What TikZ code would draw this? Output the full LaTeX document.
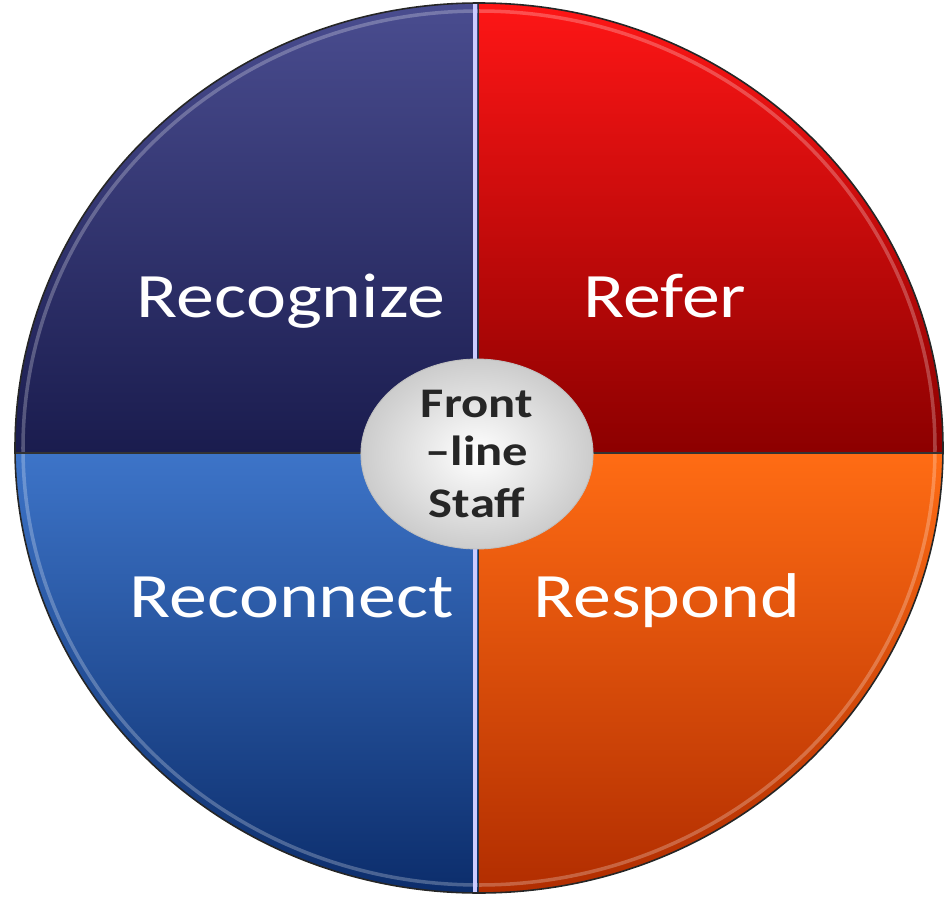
\documentclass[tikz,border=0pt]{standalone}
\usepackage{fontspec}
\setmainfont{Carlito}
\usetikzlibrary{shapes.geometric}

\definecolor{navytop}{HTML}{4A4D90}
\definecolor{navybot}{HTML}{1A1C4E}
\definecolor{redtop}{HTML}{FF1616}
\definecolor{redbot}{HTML}{8C0000}
\definecolor{bluetop}{HTML}{3D74C8}
\definecolor{bluebot}{HTML}{0B2C6A}
\definecolor{orangetop}{HTML}{FF6C14}
\definecolor{orangebot}{HTML}{B02C00}

\begin{document}
\begin{tikzpicture}[x=0.02cm,y=-0.02cm,
    quadlabel/.style={text=white,inner sep=0pt,anchor=base,xscale=1.2,
      font=\fontsize{36}{36}\selectfont},
    hub/.style={ellipse,draw=gray!50,line width=0.5pt,minimum width=3.87cm,
      minimum height=3.8cm,inner sep=0pt,xscale=1.2,align=center,
      inner color=white,outer color=black!20,text=black!85,
      font=\bfseries\fontsize{24}{29.5}\selectfont}]
    \useasboundingbox (0,0) rectangle (947,899);
    % four quadrants
    \begin{scope}
        \clip (479,448) ellipse [x radius=464,y radius=445];
        \shade[top color=navytop,bottom color=navybot] (0,0) rectangle (478,453);
        \shade[top color=redtop,bottom color=redbot] (478,0) rectangle (947,453);
        \shade[top color=bluetop,bottom color=bluebot] (0,453) rectangle (478,899);
        \shade[top color=orangetop,bottom color=orangebot] (478,453) rectangle (947,899);
        \draw[white,opacity=0.25,line width=2pt] (479,448) ellipse [x radius=456,y radius=437];
        \draw[black!80,line width=1pt] (0,453) -- (947,453);
        \draw[white!80!blue,line width=1.8pt] (475,0) -- (475,899);
        \draw[black!80,line width=0.8pt] (478.5,0) -- (478.5,899);
    \end{scope}
    \draw[black!85,line width=0.9pt] (479,448) ellipse [x radius=464,y radius=445];
    % labels
    \node[quadlabel] (recognize) at (291,317) {Recognize};
    \node[quadlabel] (refer) at (665,317) {Refer};
    \node[quadlabel] (reconnect) at (292,617) {Reconnect};
    \node[quadlabel] (respond) at (667,617) {Respond};
    % centre
    \node[hub] (staff) at (477,454) {Front\\[-2pt]\textendash line\\Staff};
\end{tikzpicture}
\end{document}
